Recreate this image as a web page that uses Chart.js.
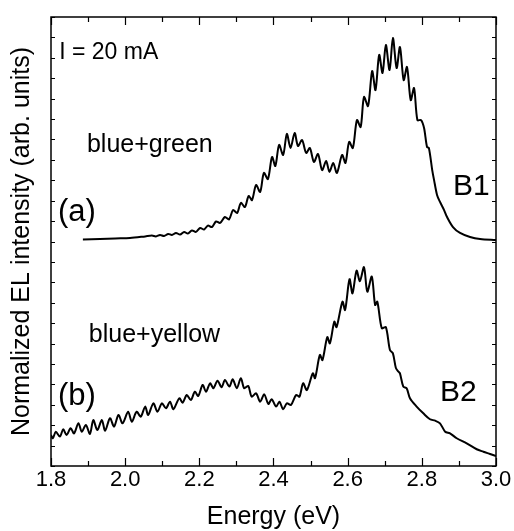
<!DOCTYPE html>
<html>
<head>
<meta charset="utf-8">
<script src="https://cdn.jsdelivr.net/npm/chart.js@4.4.0/dist/chart.umd.min.js"></script>
<style>
  html, body { margin: 0; padding: 0; background: #ffffff; }
  #wrap { width: 514px; height: 531px; }
</style>
</head>
<body>
<div id="wrap"><canvas id="c" width="514" height="531"></canvas></div>
<script>
// EL spectra at I = 20 mA; (a) blue+green device B1 is offset upward by ~1.1
const energyA = [1.886,1.932,1.973,2.013,2.054,2.072,2.083,2.094,2.105,2.116,2.126,2.137,2.148,2.159,2.169,2.180,2.191,2.202,2.213,2.223,2.234,2.245,2.256,2.269,2.280,2.291,2.302,2.312,2.323,2.333,2.342,2.353,2.364,2.374,2.385,2.396,2.405,2.415,2.426,2.436,2.446,2.457,2.466,2.477,2.488,2.498,2.509,2.520,2.531,2.542,2.551,2.561,2.571,2.585,2.594,2.604,2.614,2.625,2.635,2.644,2.655,2.666,2.675,2.685,2.694,2.703,2.713,2.722,2.732,2.741,2.751,2.760,2.770,2.779,2.788,2.798,2.806,2.814,2.819,2.828,2.833,2.841,2.849,2.860,2.868,2.884,2.903,2.930,2.957,3.000];
const intensityA = [1.110,1.112,1.115,1.117,1.125,1.129,1.125,1.132,1.127,1.137,1.132,1.142,1.134,1.147,1.139,1.154,1.147,1.166,1.159,1.178,1.171,1.198,1.191,1.220,1.208,1.254,1.240,1.289,1.269,1.323,1.303,1.377,1.343,1.436,1.406,1.514,1.470,1.573,1.524,1.627,1.558,1.632,1.568,1.597,1.534,1.558,1.490,1.529,1.450,1.494,1.441,1.485,1.436,1.524,1.485,1.588,1.558,1.695,1.661,1.808,1.764,1.935,1.842,2.014,1.926,2.063,1.940,2.097,1.950,2.053,1.891,1.955,1.793,1.852,1.695,1.695,1.656,1.563,1.558,1.450,1.401,1.328,1.294,1.254,1.220,1.171,1.142,1.122,1.112,1.107];

// (b) blue+yellow device B2
const energyB = [1.800,1.805,1.813,1.824,1.833,1.842,1.853,1.862,1.874,1.883,1.894,1.905,1.914,1.925,1.937,1.946,1.959,1.970,1.982,1.993,2.008,2.018,2.031,2.042,2.054,2.062,2.076,2.087,2.099,2.110,2.121,2.130,2.146,2.155,2.166,2.177,2.188,2.197,2.209,2.218,2.229,2.238,2.249,2.260,2.269,2.281,2.290,2.301,2.312,2.321,2.332,2.341,2.353,2.364,2.375,2.386,2.395,2.407,2.416,2.426,2.436,2.447,2.461,2.470,2.480,2.490,2.506,2.512,2.525,2.532,2.545,2.552,2.564,2.570,2.586,2.593,2.605,2.613,2.624,2.633,2.644,2.653,2.665,2.674,2.680,2.692,2.703,2.714,2.722,2.730,2.737,2.741,2.750,2.759,2.768,2.786,2.804,2.822,2.836,2.849,2.863,2.876,2.894,2.921,2.948,2.966,2.984,3.000];
const intensityB = [0.152,0.136,0.168,0.144,0.180,0.152,0.185,0.160,0.209,0.168,0.201,0.157,0.225,0.176,0.225,0.173,0.234,0.193,0.250,0.209,0.266,0.217,0.266,0.242,0.291,0.250,0.307,0.266,0.307,0.283,0.315,0.278,0.332,0.310,0.348,0.323,0.364,0.343,0.397,0.364,0.405,0.381,0.418,0.386,0.421,0.389,0.425,0.381,0.430,0.381,0.392,0.340,0.356,0.315,0.351,0.304,0.327,0.291,0.315,0.278,0.307,0.299,0.348,0.340,0.405,0.372,0.454,0.430,0.544,0.519,0.631,0.601,0.707,0.680,0.805,0.764,0.915,0.846,0.957,0.906,0.974,0.854,0.928,0.789,0.805,0.675,0.680,0.568,0.552,0.480,0.462,0.454,0.389,0.381,0.332,0.291,0.258,0.229,0.222,0.209,0.168,0.160,0.136,0.111,0.082,0.070,0.059,0.049];

// Axis ticks: every 0.1 eV, labelled every 0.2 eV; unlabelled intensity ticks
const energyTicks = [1.8,1.9,2.0,2.1,2.2,2.3,2.4,2.5,2.6,2.7,2.8,2.9,3.0];
const energyTickLabels = ['1.8','','2.0','','2.2','','2.4','','2.6','','2.8','','3.0'];
const intensityTicks = [0,0.1,0.2,0.3,0.4,0.5,0.6,0.7,0.8,0.9,1.0,1.1,1.2,1.3,1.4,1.5,1.6,1.7,1.8,1.9,2.0,2.1,2.2];

const FONT = 'Liberation Sans, Arial, Helvetica, sans-serif';

const toPoints = (xs, ys) => xs.map((x, i) => ({ x: x, y: ys[i] }));

// Frame, inward tick marks and in-plot text
const framePlugin = {
  id: 'frame',
  afterDraw(chart) {
    const { ctx, chartArea: a, scales } = chart;
    const xs = scales.x, ys = scales.y;
    ctx.save();
    ctx.strokeStyle = '#000';
    ctx.lineWidth = 1.5;
    ctx.strokeRect(a.left, a.top, a.right - a.left, a.bottom - a.top);
    ctx.lineWidth = 1.2;
    ctx.beginPath();
    energyTicks.forEach((v, i) => {
      const px = Math.round(xs.getPixelForValue(v)) + 0.5;
      const len = energyTickLabels[i] ? 8 : 5;
      ctx.moveTo(px, a.bottom); ctx.lineTo(px, a.bottom - len);
      ctx.moveTo(px, a.top); ctx.lineTo(px, a.top + len);
    });
    intensityTicks.forEach(v => {
      const py = Math.round(ys.getPixelForValue(v)) + 0.5;
      ctx.moveTo(a.left, py); ctx.lineTo(a.left + 4, py);
      ctx.moveTo(a.right, py); ctx.lineTo(a.right - 4, py);
    });
    ctx.stroke();

    ctx.fillStyle = '#000';
    ctx.textBaseline = 'middle';
    ctx.textAlign = 'left';
    const put = (txt, ex, iy, size) => {
      ctx.font = size + 'px ' + FONT;
      ctx.fillText(txt, xs.getPixelForValue(ex), ys.getPixelForValue(iy));
    };
    put('I = 20 mA', 1.822, 2.024, 23);
    put('blue+green', 1.897, 1.573, 25);
    put('(a)', 1.819, 1.240, 31);
    put('blue+yellow', 1.902, 0.642, 25);
    put('(b)', 1.819, 0.343, 31);
    put('B1', 2.884, 1.367, 30);
    put('B2', 2.849, 0.358, 30);
    ctx.restore();
  }
};

const lineStyle = {
  showLine: true,
  borderColor: '#000',
  borderWidth: 2,
  pointRadius: 0,
  tension: 0.3,
  fill: false
};

new Chart(document.getElementById('c'), {
  type: 'scatter',
  data: {
    datasets: [
      Object.assign({ label: 'B1 blue+green', data: toPoints(energyA, intensityA) }, lineStyle),
      Object.assign({ label: 'B2 blue+yellow', data: toPoints(energyB, intensityB) }, lineStyle)
    ]
  },
  options: {
    responsive: false,
    animation: false,
    devicePixelRatio: 1,
    layout: { padding: { top: 17, right: 18, left: 0, bottom: 0 } },
    plugins: { legend: { display: false }, tooltip: { enabled: false } },
    scales: {
      x: {
        type: 'linear',
        min: 1.8, max: 3.0,
        afterBuildTicks: s => { s.ticks = energyTicks.map(v => ({ value: v })); },
        afterFit: s => { s.height = 65; },
        grid: { display: false, drawTicks: false },
        border: { display: false },
        ticks: {
          autoSkip: false, maxRotation: 0, padding: 1, color: '#000',
          font: { family: FONT, size: 22 },
          callback: (v, i) => energyTickLabels[i]
        },
        title: {
          display: true, text: 'Energy (eV)', color: '#000',
          font: { family: FONT, size: 25, lineHeight: 1 },
          padding: { top: 0, bottom: 1 }
        }
      },
      y: {
        type: 'linear',
        min: 0, max: 2.2,
        afterBuildTicks: s => { s.ticks = intensityTicks.map(v => ({ value: v })); },
        afterFit: s => { s.width = 51; },
        grid: { display: false, drawTicks: false },
        border: { display: false },
        ticks: { display: false },
        title: {
          display: true, text: 'Normalized EL intensity (arb. units)', color: '#000',
          font: { family: FONT, size: 25, lineHeight: 1 },
          padding: { top: 10, bottom: 0 }
        }
      }
    }
  },
  plugins: [framePlugin]
});
</script>
</body>
</html>
